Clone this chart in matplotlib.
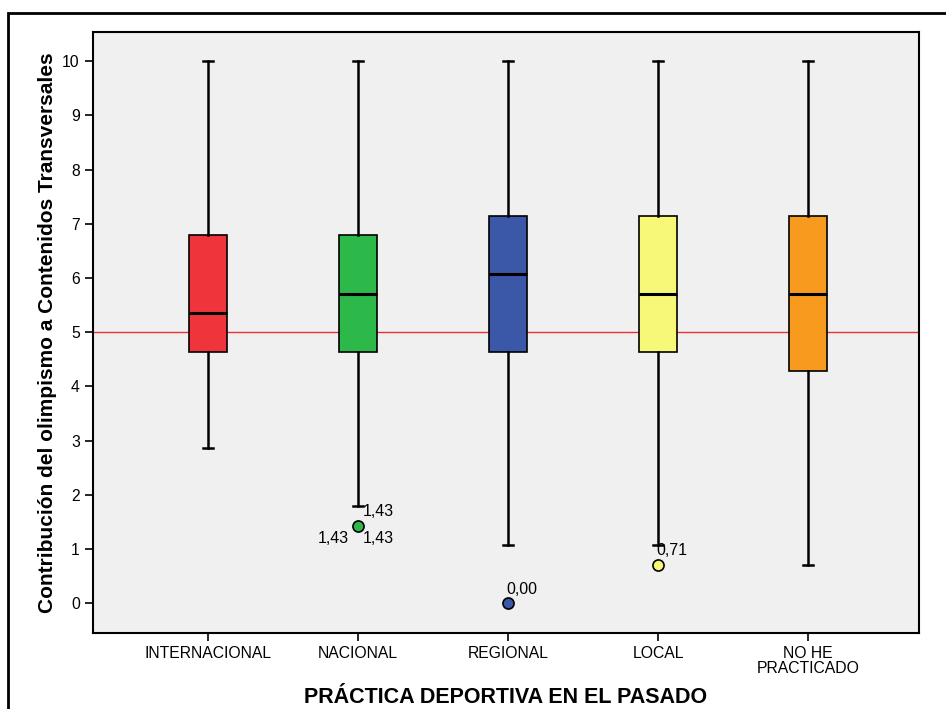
import matplotlib
matplotlib.use('Agg')
import matplotlib.pyplot as plt
from matplotlib.patches import Rectangle

plt.rcParams['font.family'] = ['Liberation Sans', 'DejaVu Sans']

# Datos
categorias = ['INTERNACIONAL', 'NACIONAL', 'REGIONAL', 'LOCAL', 'NO HE\nPRACTICADO']
whislo = [2.86, 1.79, 1.07, 1.07, 0.71]
q1 = [4.64, 4.64, 4.64, 4.64, 4.29]
med = [5.36, 5.71, 6.07, 5.71, 5.71]
q3 = [6.79, 6.79, 7.14, 7.14, 7.14]
whishi = [10.0, 10.0, 10.0, 10.0, 10.0]
atipicos = [[], [1.43], [0.0], [0.71], []]
etiquetas_atipicos = [[], ['1,43'], ['0,00'], ['0,71'], []]
colores = ['#F0343C', '#2DB84A', '#3A57A8', '#F8F878', '#F89A1E']
referencia = 5

fig = plt.figure(figsize=(9.46, 7.09), dpi=100)
ax = fig.add_axes([93 / 946, 1 - 633 / 709, (919 - 93) / 946, (633 - 32) / 709])
ax.set_facecolor('#F0F0F0')

# marco exterior
fig.patches.append(Rectangle((8 / 946, -0.1), 1.2, 1 - 13 / 709 + 0.1, transform=fig.transFigure,
                             fill=False, edgecolor='black', linewidth=2))

stats = []
for i in range(len(categorias)):
    stats.append({'whislo': whislo[i], 'q1': q1[i], 'med': med[i], 'q3': q3[i],
                  'whishi': whishi[i], 'fliers': []})

pos = list(range(1, len(categorias) + 1))
bp = ax.bxp(stats, positions=pos, widths=0.25, capwidths=0.07, patch_artist=True,
            showfliers=False,
            boxprops=dict(edgecolor='black', linewidth=1.2),
            medianprops=dict(color='black', linewidth=2.2),
            whiskerprops=dict(color='black', linewidth=1.8),
            capprops=dict(color='black', linewidth=1.8))
for patch, c in zip(bp['boxes'], colores):
    patch.set_facecolor(c)
    patch.set_zorder(3)
for l in bp['medians'] + bp['whiskers'] + bp['caps']:
    l.set_zorder(4)

# valores atípicos
for i, (vals, labs) in enumerate(zip(atipicos, etiquetas_atipicos)):
    for v, t in zip(vals, labs):
        ax.plot(pos[i], v, 'o', markersize=8, markerfacecolor=colores[i],
                markeredgecolor='black', markeredgewidth=1.2, zorder=5)
        if i == 1:
            ax.text(pos[i] + 0.03, v + 0.12, t, fontsize=11.5, ha='left', va='bottom')
            ax.text(pos[i] - 0.06, v - 0.1, t, fontsize=11.5, ha='right', va='top')
            ax.text(pos[i] + 0.03, v - 0.1, t, fontsize=11.5, ha='left', va='top')
        else:
            ax.text(pos[i] - 0.01, v + 0.12, t, fontsize=11.5, ha='left', va='bottom')

ax.axhline(referencia, color='#F03030', linewidth=1, zorder=2)

ax.set_xlim(0.233, 5.74)
ax.set_ylim(-0.55, 10.54)
ax.set_yticks(range(0, 11))
ax.set_xticks(pos)
ax.set_xticklabels(categorias, fontsize=11.3, linespacing=0.95)
ax.tick_params(axis='y', labelsize=11.3, length=6, width=1.2)
ax.tick_params(axis='x', length=6, width=1.2)
for s in ax.spines.values():
    s.set_linewidth(1.5)

ax.set_xlabel('PRÁCTICA DEPORTIVA EN EL PASADO', fontsize=15.5, fontweight='bold', labelpad=8)
ax.set_ylabel('Contribución del olimpismo a Contenidos Transversales', fontsize=15,
              fontweight='bold', labelpad=4)

plt.savefig('out.png', dpi=100)
